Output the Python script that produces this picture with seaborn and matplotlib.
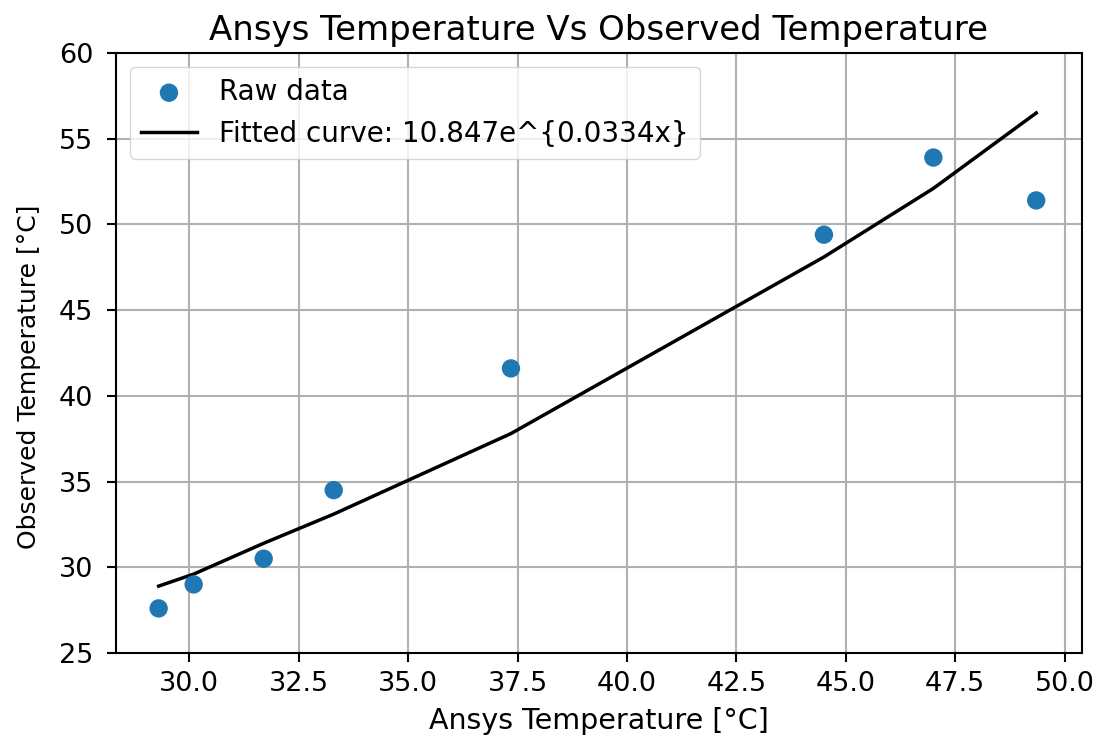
"""
Ansys vs observed temperature with exponential fit
"""
import numpy as np
import pandas as pd
import matplotlib
matplotlib.use("Agg")
import matplotlib.pyplot as plt
import seaborn as sns

# values
ansys_temp = [29.3, 30.1, 31.7, 33.3, 37.35, 44.5, 47.0, 49.35]
observed_temp = [27.6, 29.0, 30.5, 34.5, 41.6, 49.4, 53.9, 51.4]
fitted_temp = [28.9, 29.6, 31.4, 33.1, 37.8, 48.1, 52.1, 56.5]
fit_label = "Fitted curve: 10.847e^{0.0334x}"

df = pd.DataFrame({
    'ansys': ansys_temp,
    'observed': observed_temp,
    'fitted': fitted_temp,
})

plt.rcParams['font.family'] = ['DejaVu Sans']
plt.rcParams['font.size'] = 19.5
plt.rcParams['axes.linewidth'] = 1.5
plt.rcParams['xtick.major.width'] = 1.5
plt.rcParams['ytick.major.width'] = 1.5
plt.rcParams['xtick.major.size'] = 6.5
plt.rcParams['ytick.major.size'] = 6.5
plt.rcParams['xtick.major.pad'] = 6.5
plt.rcParams['ytick.major.pad'] = 10

fig = plt.figure(figsize=(10.96, 7.4), dpi=100)
ax = fig.add_axes([0.106, 0.1176, 0.881, 0.8108])

sns.scatterplot(data=df, x='ansys', y='observed', ax=ax, s=175,
                color='#1f77b4', edgecolor='none', label='Raw data', zorder=3)
sns.lineplot(data=df, x='ansys', y='fitted', ax=ax, color='black',
             linewidth=2.5, label=fit_label, zorder=2)

ax.set_ylim(25, 60)
ax.set_xlim(28.33, 50.39)
ax.set_xticks(np.arange(30, 50.1, 2.5))
ax.tick_params(labelsize=19.5)
ax.grid(True, color='#b0b0b0', linewidth=1.5)
ax.set_axisbelow(True)

ax.set_title('Ansys Temperature Vs Observed Temperature', fontsize=24.5, pad=9)
ax.set_xlabel('Ansys Temperature [°C]', fontsize=20.5, labelpad=7)
ax.set_ylabel('Observed Temperature [°C]', fontsize=18)
ax.yaxis.set_label_coords(-0.078, 0.46)

ax.legend(loc='upper left', fontsize=20, borderaxespad=0.5)

fig.savefig('out.png', dpi=100)
plt.close(fig)
